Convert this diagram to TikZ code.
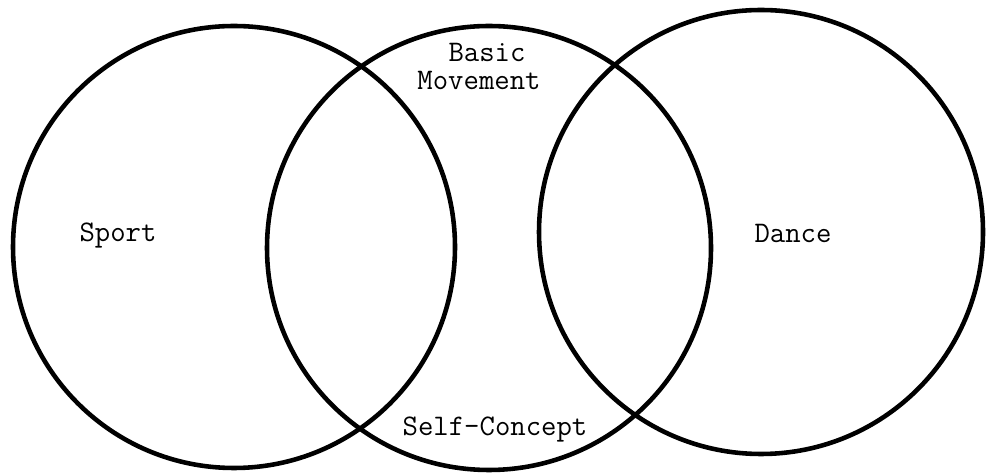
\documentclass[tikz,border=0pt]{standalone}
\usepackage{fontspec}

\begin{document}
\begin{tikzpicture}[
    x=0.02cm, y=0.02cm,
    ring/.style={draw, line width=2.6pt},
    term/.style={font=\ttfamily\fontsize{17}{13}\selectfont, inner sep=0pt, anchor=base}
]
\useasboundingbox (0,0) rectangle (986,476);

% Centres of the three circles
\coordinate (sportc) at (234,229);
\coordinate (basicc) at (489,228);
\coordinate (dancec) at (761,244);

\draw[ring] (sportc) circle[radius=221];
\draw[ring] (basicc) circle[radius=222];
\draw[ring] (dancec) circle[radius=222];

% Labels
\node[term] (sport) at (118,234) {Sport};
\node[term] (basic) at (487,414) {Basic};
\node[term] (move) at (479,386) {Movement};
\node[term] (self) at (495,40) {Self-Concept};
\node[term] (dance) at (793,233) {Dance};

\end{tikzpicture}
\end{document}
